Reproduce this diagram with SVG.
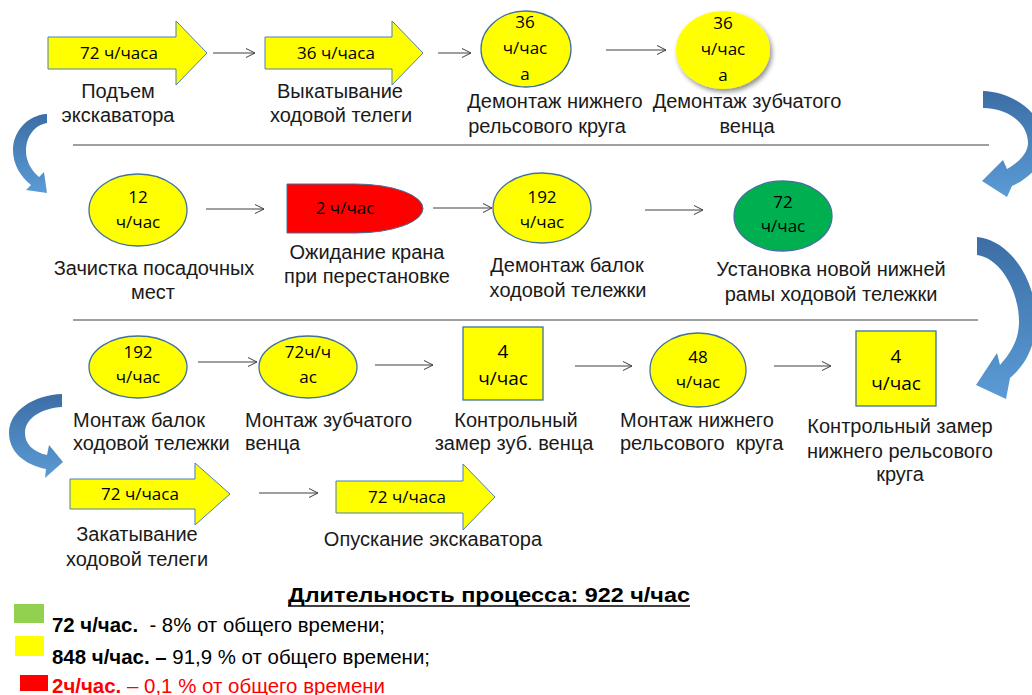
<svg xmlns="http://www.w3.org/2000/svg" width="1032" height="695" viewBox="0 0 1032 695">
<defs>
<style>
.lbl{font-family:"Liberation Sans",Arial,sans-serif;font-size:20px;fill:#1a1a1a;text-anchor:middle}
.lbl-l{font-family:"Liberation Sans",Arial,sans-serif;font-size:20px;fill:#1a1a1a;text-anchor:start;white-space:pre}
.in{font-family:"Open Sans","Noto Sans",sans-serif;font-size:17px;fill:#000;text-anchor:middle}
.in2{font-family:"Open Sans","Noto Sans",sans-serif;font-size:19px;fill:#000;text-anchor:middle}
.yel{fill:#ffff00;stroke:#41719c;stroke-width:1.3}
.barrow{fill:#ffff00;stroke:#4a7ebb;stroke-width:1}
.conn{fill:none;stroke:#404040;stroke-width:1;marker-end:url(#ah)}
.curve{fill:url(#cg);stroke:none}
.leg{font-family:"Liberation Sans Narrow","Liberation Sans",Arial,sans-serif;font-size:20px;fill:#000}
.sep{stroke:#404040;stroke-width:1.2}
</style>
<marker id="ah" markerWidth="12" markerHeight="12" refX="10" refY="6" orient="auto" markerUnits="userSpaceOnUse">
<path d="M1,1.5 L10,6 L1,10.5" fill="none" stroke="#404040" stroke-width="1"/>
</marker>
<linearGradient id="cg" x1="0" y1="0" x2="0" y2="1">
<stop offset="0" stop-color="#3c6ea5"/>
<stop offset="1" stop-color="#5b9bd5"/>
</linearGradient>
<filter id="sh" x="-20%" y="-20%" width="150%" height="150%">
<feGaussianBlur in="SourceAlpha" stdDeviation="2.5"/>
<feOffset dx="2" dy="3" result="b"/>
<feComponentTransfer><feFuncA type="linear" slope="0.45"/></feComponentTransfer>
<feMerge><feMergeNode/><feMergeNode in="SourceGraphic"/></feMerge>
</filter>
</defs>
<rect width="1032" height="695" fill="#ffffff"/>

<g id="separators">
<line class="sep" x1="73" y1="145" x2="989" y2="145"/>
<line class="sep" x1="73" y1="320" x2="978" y2="320"/>
</g>

<g id="connectors">
<line class="conn" x1="213" y1="53" x2="255" y2="53"/>
<line class="conn" x1="438" y1="53" x2="471" y2="53"/>
<line class="conn" x1="606" y1="50" x2="666" y2="50"/>
<line class="conn" x1="206" y1="209" x2="264" y2="209"/>
<line class="conn" x1="433" y1="208" x2="492" y2="208"/>
<line class="conn" x1="645" y1="210" x2="703" y2="210"/>
<line class="conn" x1="198" y1="362" x2="257" y2="362"/>
<line class="conn" x1="375" y1="365" x2="433" y2="365"/>
<line class="conn" x1="575" y1="366" x2="632" y2="366"/>
<line class="conn" x1="774" y1="366" x2="831" y2="366"/>
<line class="conn" x1="259" y1="493" x2="318" y2="493"/>
<path class="curve" d="M47,114 C27,115 13,132 13,150 C13,165 21,177 31,185 L26,190 L47,193 L44,172 L39,177 C31,170 26,161 26,151 C26,136 35,125 47,123 Z"/>
<path class="curve" d="M983,91 C1015,92 1045,115 1045,145 C1045,162 1030,178 1012,186 L1007,197 L982,181 L1003,160 L1007,169 C1020,162 1028,152 1028,143 C1028,123 1008,108 983,108 Z"/>
<path class="curve" d="M977,237 C1010,240 1036,280 1036,320 C1036,345 1025,366 1010,378 L1006,399 L976,385 L997,353 L1000,365 C1012,352 1019,338 1019,322 C1019,290 1000,258 977,255 Z"/>
<path class="curve" d="M62,394 C35,395 9,410 9,433 C9,452 25,465 46,469 L45,478 L63,462 L49,445 L47,455 C33,452 25,444 25,433 C25,418 42,408 62,407 Z"/>
</g>

<g id="n1">
<path class="barrow" d="M48,37 H176 V21 L207,53 L176,85 V69 H48 Z"/>
<text class="in" x="119" y="59">72 ч/часа</text>
<text class="lbl" x="118" y="98">Подъем</text>
<text class="lbl" x="118" y="122">экскаватора</text>
</g>
<g id="n2">
<path class="barrow" d="M265,37 H392 V21 L423,53 L392,85 V69 H265 Z"/>
<text class="in" x="336" y="59">36 ч/часа</text>
<text class="lbl" x="340" y="98">Выкатывание</text>
<text class="lbl" x="341" y="122">ходовой телеги</text>
</g>
<g id="n3">
<ellipse class="yel" cx="526" cy="49" rx="45" ry="38"/>
<text class="in" x="525" y="28">36</text>
<text class="in" x="525" y="54">ч/час</text>
<text class="in" x="525" y="80">а</text>
<text class="lbl" x="555" y="108">Демонтаж нижнего</text>
<text class="lbl" x="547" y="133">рельсового круга</text>
</g>
<g id="n4">
<ellipse cx="723" cy="50" rx="47" ry="39" fill="#ffff00" filter="url(#sh)"/>
<text class="in" x="723" y="29">36</text>
<text class="in" x="723" y="55">ч/час</text>
<text class="in" x="723" y="81">а</text>
<text class="lbl" x="747" y="108">Демонтаж зубчатого</text>
<text class="lbl" x="747" y="133">венца</text>
</g>

<g id="n5">
<ellipse class="yel" cx="138" cy="210" rx="49" ry="36"/>
<text class="in" x="138" y="203">12</text>
<text class="in" x="138" y="228">ч/час</text>
<text class="lbl" x="154" y="275">Зачистка посадочных</text>
<text class="lbl" x="153" y="299">мест</text>
</g>
<g id="n6">
<path d="M287,184 H355 A68,24.5 0 0 1 355,233 H287 Z" fill="#ff0000" stroke="#41719c" stroke-width="1"/>
<text class="in" x="345" y="214">2 ч/час</text>
<text class="lbl" x="367" y="259">Ожидание крана</text>
<text class="lbl" x="367" y="283">при перестановке</text>
</g>
<g id="n7">
<ellipse class="yel" cx="542" cy="208" rx="49" ry="35"/>
<text class="in" x="542" y="203">192</text>
<text class="in" x="542" y="228">ч/час</text>
<text class="lbl" x="567" y="272">Демонтаж балок</text>
<text class="lbl" x="568" y="297">ходовой тележки</text>
</g>
<g id="n8">
<ellipse cx="783" cy="216" rx="49" ry="35" fill="#00b050" stroke="#41719c" stroke-width="1.3"/>
<text class="in" x="783" y="208">72</text>
<text class="in" x="783" y="232">ч/час</text>
<text class="lbl" x="831" y="276">Установка новой нижней</text>
<text class="lbl" x="831" y="301">рамы ходовой тележки</text>
</g>

<g id="n9">
<ellipse class="yel" cx="138" cy="367" rx="49" ry="31"/>
<text class="in" x="138" y="358">192</text>
<text class="in" x="138" y="383">ч/час</text>
<text class="lbl-l" x="73" y="427">Монтаж балок</text>
<text class="lbl-l" x="73" y="450">ходовой тележки</text>
</g>
<g id="n10">
<ellipse class="yel" cx="308" cy="367" rx="49" ry="31"/>
<text class="in" x="308" y="358">72ч/ч</text>
<text class="in" x="308" y="383">ас</text>
<text class="lbl-l" x="245" y="427">Монтаж зубчатого</text>
<text class="lbl-l" x="245" y="450">венца</text>
</g>
<g id="n11">
<rect class="yel" x="463" y="327" width="80" height="73"/>
<text class="in2" x="503" y="358">4</text>
<text class="in2" x="503" y="385">ч/час</text>
<text class="lbl" x="516" y="427">Контрольный</text>
<text class="lbl" x="514" y="450">замер зуб. венца</text>
</g>
<g id="n12">
<ellipse class="yel" cx="698" cy="370" rx="48" ry="37"/>
<text class="in" x="698" y="363">48</text>
<text class="in" x="698" y="388">ч/час</text>
<text class="lbl-l" x="620" y="427">Монтаж нижнего</text>
<text class="lbl-l" x="620" y="450">рельсового  круга</text>
</g>
<g id="n13">
<rect class="yel" x="856" y="331" width="80" height="75"/>
<text class="in2" x="896" y="363">4</text>
<text class="in2" x="896" y="390">ч/час</text>
<text class="lbl" x="900" y="433">Контрольный замер</text>
<text class="lbl" x="900" y="458">нижнего рельсового</text>
<text class="lbl" x="900" y="481">круга</text>
</g>

<g id="n14">
<path class="barrow" d="M70,479 H195 V463 L230,494 L195,525 V509 H70 Z"/>
<text class="in" x="140" y="500">72 ч/часа</text>
<text class="lbl" x="137" y="541">Закатывание</text>
<text class="lbl" x="137" y="566">ходовой телеги</text>
</g>
<g id="n15">
<path class="barrow" d="M336,481 H463 V464 L495,497 L463,530 V513 H336 Z"/>
<text class="in" x="407" y="503">72 ч/часа</text>
<text class="lbl" x="433" y="546">Опускание экскаватора</text>
</g>

<g id="legend">
<text class="leg" x="489" y="602" text-anchor="middle" font-weight="bold" font-size="22" textLength="402" lengthAdjust="spacingAndGlyphs">Длительность процесса: 922 ч/час</text>
<line x1="288" y1="606" x2="690" y2="606" stroke="#000" stroke-width="1.5"/>
<rect x="14" y="604" width="30" height="19" fill="#92d050"/>
<text class="leg" x="52" y="632" textLength="333" lengthAdjust="spacingAndGlyphs" xml:space="preserve"><tspan font-weight="bold">72 ч/час.</tspan>  - 8% от общего времени;</text>
<rect x="15" y="636" width="29" height="20" fill="#ffff00"/>
<text class="leg" x="52" y="664" textLength="378" lengthAdjust="spacingAndGlyphs"><tspan font-weight="bold">848 ч/час. –</tspan> 91,9 % от общего времени;</text>
<rect x="20" y="675" width="28" height="16" fill="#ff0000"/>
<text class="leg" x="52" y="693" style="fill:#ff0000" textLength="333" lengthAdjust="spacingAndGlyphs"><tspan font-weight="bold">2ч/час.</tspan> – 0,1 % от общего времени</text>
</g>
</svg>
